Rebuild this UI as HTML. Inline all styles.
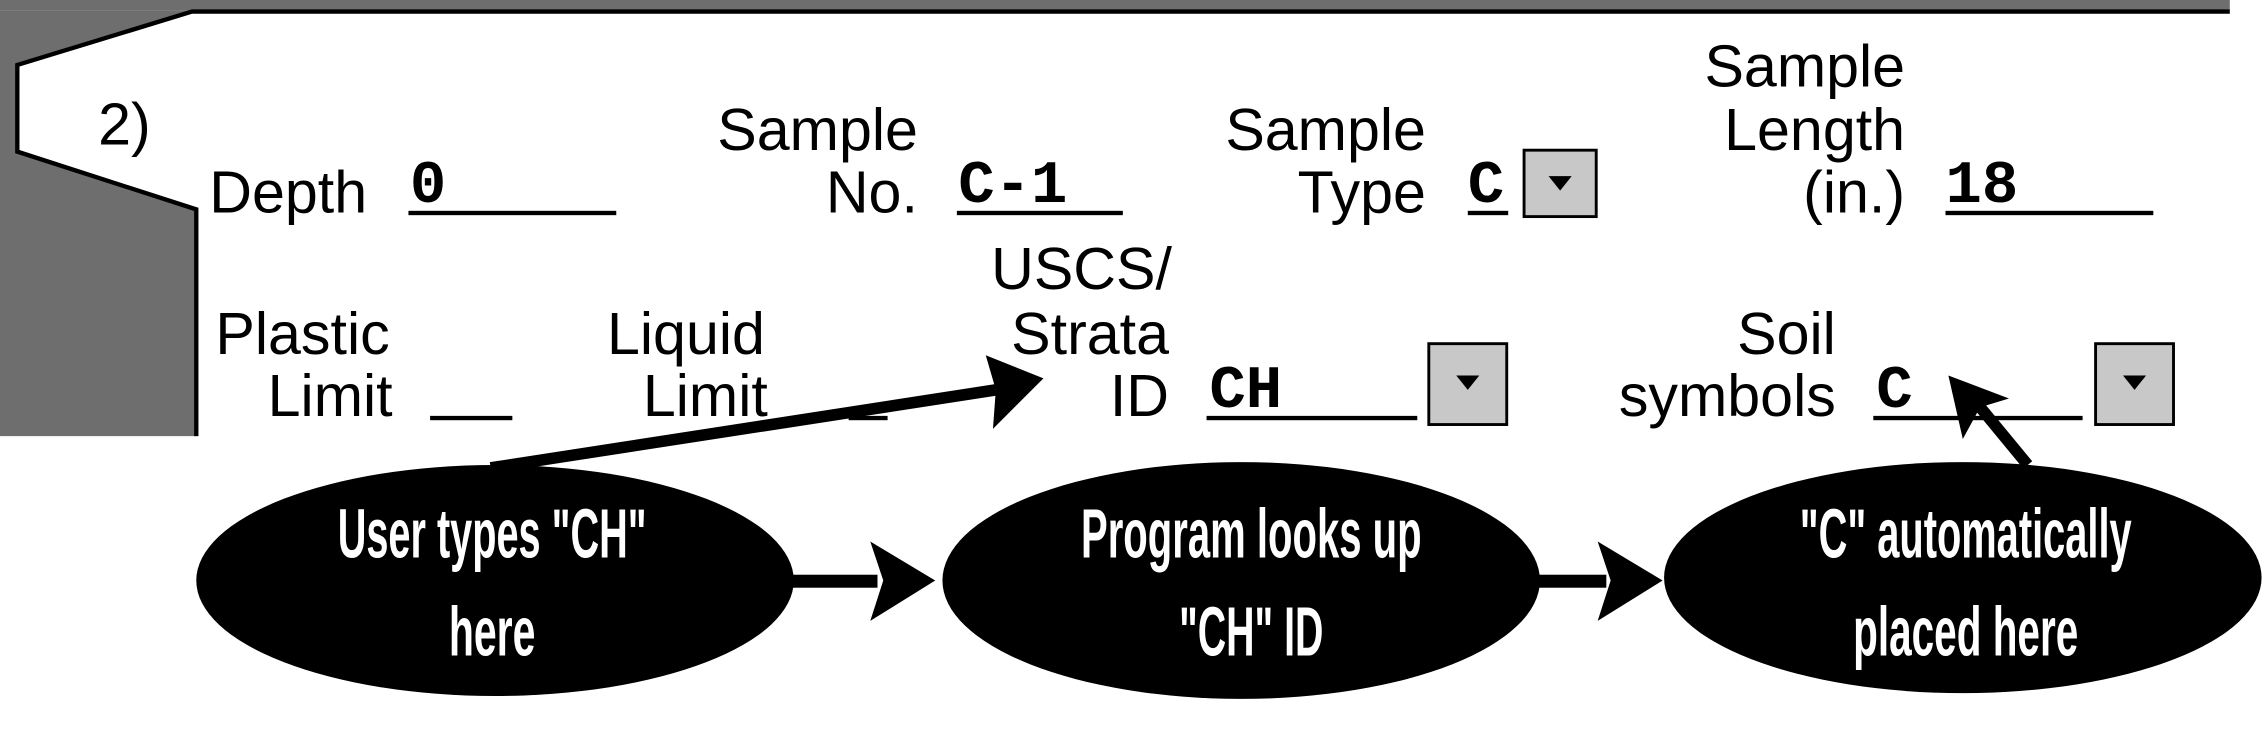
<!DOCTYPE html>
<html><head><meta charset="utf-8"><style>
html,body{margin:0;padding:0;background:#fff;overflow:hidden}
svg{display:block}
.t{font-family:"Liberation Sans",sans-serif;font-size:41px;fill:#000}
.v{font-family:"Liberation Mono",monospace;font-weight:bold;font-size:42px;fill:#000}
.w{font-family:"Liberation Sans",sans-serif;font-weight:bold;font-size:48px;fill:#fff}
</style></head><body>
<svg width="2263" height="748" viewBox="0 0 1568 518" preserveAspectRatio="none" xmlns="http://www.w3.org/2000/svg">
<rect x="0" y="0" width="1568" height="518" fill="#fff"/>
<rect x="0" y="0" width="1545" height="7" fill="#6e6e6e"/>
<polygon points="0,7 133,7 12,45 12,105 137,145 137,302 0,302" fill="#6e6e6e"/>
<polyline points="1545,8 133,8 12,45 12,105 136,145 136,302" fill="none" stroke="#000" stroke-width="3"/>
<text class="t" x="68" y="100">2)</text>
<text class="t" x="145" y="147">Depth</text>
<text class="v" x="284" y="140">0</text>
<rect x="283" y="146" width="144" height="3"/>
<text class="t" x="636" y="104" text-anchor="end">Sample</text>
<text class="t" x="636" y="147" text-anchor="end">No.</text>
<text class="v" x="664" y="140">C-1</text>
<rect x="663" y="146" width="115" height="3"/>
<text class="t" x="988" y="104" text-anchor="end">Sample</text>
<text class="t" x="988" y="147" text-anchor="end">Type</text>
<text class="v" x="1017" y="140">C</text>
<rect x="1017" y="146" width="28" height="3"/>
<rect x="1056" y="104" width="50" height="46" fill="#c8c8c8" stroke="#000" stroke-width="2"/>
<polygon points="1073,122 1089,122 1081,132" fill="#000"/>
<text class="t" x="1320" y="60" text-anchor="end">Sample</text>
<text class="t" x="1320" y="104" text-anchor="end">Length</text>
<text class="t" x="1320" y="147" text-anchor="end">(in.)</text>
<text class="v" x="1348" y="140">18</text>
<rect x="1348" y="146" width="144" height="3"/>
<text class="t" x="270" y="245" text-anchor="end">Plastic</text>
<text class="t" x="272" y="288" text-anchor="end">Limit</text>
<rect x="298" y="288" width="57" height="3"/>
<text class="t" x="530" y="245" text-anchor="end">Liquid</text>
<text class="t" x="532" y="288" text-anchor="end">Limit</text>
<rect x="588" y="288" width="27" height="3"/>
<text class="t" x="812" y="200" text-anchor="end">USCS/</text>
<text class="t" x="810" y="245" text-anchor="end">Strata</text>
<text class="t" x="810" y="288" text-anchor="end">ID</text>
<text class="v" x="838" y="282">CH</text>
<rect x="836" y="288" width="146" height="3"/>
<rect x="990" y="238" width="54" height="56" fill="#c8c8c8" stroke="#000" stroke-width="2"/>
<polygon points="1009,260 1025,260 1017,270" fill="#000"/>
<text class="t" x="1272" y="245" text-anchor="end">Soil</text>
<text class="t" x="1272" y="288" text-anchor="end">symbols</text>
<text class="v" x="1300" y="282">C</text>
<rect x="1298" y="288" width="145" height="3"/>
<rect x="1452" y="238" width="54" height="56" fill="#c8c8c8" stroke="#000" stroke-width="2"/>
<polygon points="1471,260 1487,260 1479,270" fill="#000"/>
<line x1="340" y1="324" x2="690" y2="270" stroke="#000" stroke-width="8"/>
<polygon points="723,262 683,246 690,270 688,297" fill="#000"/>
<line x1="1405" y1="322" x2="1372" y2="282" stroke="#000" stroke-width="8"/>
<polygon points="1350,260 1360,304 1372,282 1392,276" fill="#000"/>
<rect x="548" y="398" width="60" height="9"/>
<polygon points="648,402 603,375 612,402 603,430" fill="#000"/>
<rect x="1065" y="398" width="48" height="9"/>
<polygon points="1152,402 1107,375 1116,402 1107,430" fill="#000"/>
<ellipse cx="343" cy="402" rx="207" ry="80" fill="#000"/>
<ellipse cx="860" cy="402" rx="207" ry="82" fill="#000"/>
<ellipse cx="1360" cy="400" rx="207" ry="80" fill="#000"/>
<text class="w" x="341" y="386" text-anchor="middle" textLength="214" lengthAdjust="spacingAndGlyphs">User types "CH"</text>
<text class="w" x="341" y="454" text-anchor="middle" textLength="60" lengthAdjust="spacingAndGlyphs">here</text>
<text class="w" x="867" y="386" text-anchor="middle" textLength="236" lengthAdjust="spacingAndGlyphs">Program looks up</text>
<text class="w" x="867" y="454" text-anchor="middle" textLength="100" lengthAdjust="spacingAndGlyphs">"CH" ID</text>
<text class="w" x="1362" y="386" text-anchor="middle" textLength="230" lengthAdjust="spacingAndGlyphs">"C" automatically</text>
<text class="w" x="1362" y="454" text-anchor="middle" textLength="156" lengthAdjust="spacingAndGlyphs">placed here</text>
</svg>
</body></html>
